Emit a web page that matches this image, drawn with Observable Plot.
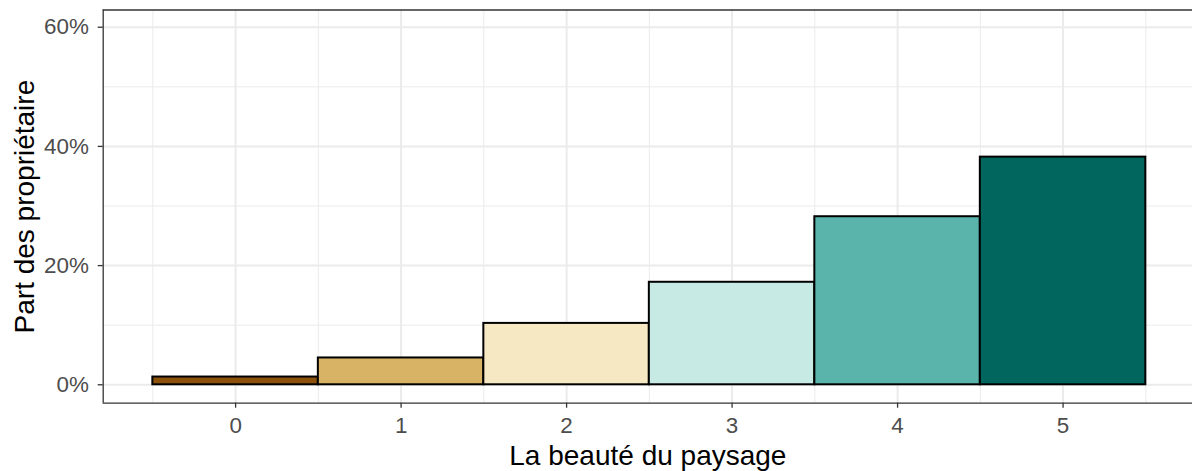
<!DOCTYPE html>
<html><head><meta charset="utf-8">
<script src="https://cdn.jsdelivr.net/npm/d3@7"></script>
<script src="https://cdn.jsdelivr.net/npm/@observablehq/plot@0.6"></script>
<style>html,body{margin:0;padding:0;background:#fff;overflow:hidden}</style>
</head><body><div id="chart"></div>
<script>
const categories = [0, 1, 2, 3, 4, 5];
const shares = [1.3, 4.5, 10.3, 17.2, 28.2, 38.2];
const palette = ["#8C510A", "#D8B365", "#F6E8C3", "#C7EAE5", "#5AB4AC", "#01665E"];
const yTicks = [0, 20, 40, 60];
const yMinor = [10, 30, 50];
const xMinor = [-0.5, 0.5, 1.5, 2.5, 3.5, 4.5, 5.5];
const xTitle = "La beauté du paysage";
const yTitle = "Part des propriétaire";

const data = categories.map((c, i) => ({cat: c, share: shares[i]}));
const xDomain = [-0.8, 5.782];
const yDomain = [-3.09, 62.89];
const font = "'Liberation Sans', Arial, sans-serif";

const chart = Plot.plot({
  width: 1192, height: 471,
  marginLeft: 102.7, marginRight: 0, marginTop: 9.5, marginBottom: 68.3,
  x: {domain: xDomain},
  y: {domain: yDomain},
  color: {type: "ordinal", domain: categories, range: palette},
  style: {fontFamily: font, background: "#fff"},
  marks: [
    Plot.gridX(xMinor, {stroke: "#EBEBEB", strokeOpacity: 1, strokeWidth: 1}),
    Plot.gridY(yMinor, {stroke: "#EBEBEB", strokeOpacity: 1, strokeWidth: 1}),
    Plot.gridX(categories, {stroke: "#EBEBEB", strokeOpacity: 1, strokeWidth: 2}),
    Plot.gridY(yTicks, {stroke: "#EBEBEB", strokeOpacity: 1, strokeWidth: 2}),
    Plot.rect(data, {x1: d => d.cat - 0.5, x2: d => d.cat + 0.5, y1: d => 0, y2: "share",
      fill: "cat", stroke: "#000", strokeWidth: 2}),
    Plot.ruleX([xDomain[0]], {stroke: "#333333", strokeWidth: 1.3}),
    Plot.ruleY([yDomain[0], yDomain[1]], {stroke: "#333333", strokeWidth: 1.3}),
    Plot.axisX(categories, {tickSize: 5, tickPadding: 8.7, fontSize: 22.4, fill: "#4D4D4D", stroke: "#333333", strokeWidth: 1.3, tickFormat: d => String(d), label: null}),
    Plot.axisY(yTicks, {tickSize: 5, tickPadding: 9.4, fontSize: 22.4, fill: "#4D4D4D", stroke: "#333333", strokeWidth: 1.3, tickFormat: d => d + "%", label: null}),
    Plot.text([xTitle], {text: d => d, frameAnchor: "bottom", lineAnchor: "bottom", dy: 61.6, fontSize: 28, fill: "#000"}),
    Plot.text([yTitle], {text: d => d, frameAnchor: "left", textAnchor: "middle", rotate: -90, lineAnchor: "bottom", dx: -69.7, fontSize: 28, fill: "#000"})
  ]
});
document.getElementById("chart").append(chart);
</script>
</body></html>
